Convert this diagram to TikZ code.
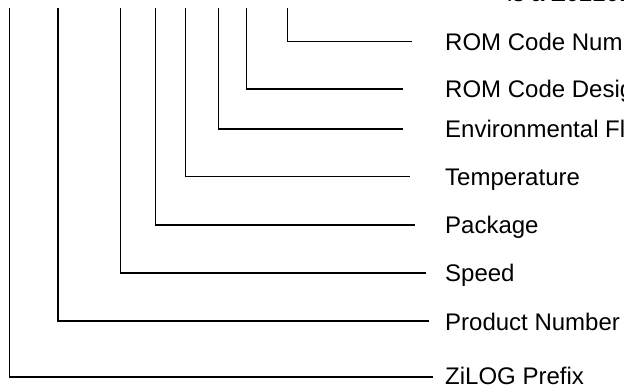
\documentclass[tikz,border=0pt]{standalone}
\usepackage{fontspec}
\setmainfont{Liberation Sans}
\begin{document}
\begin{tikzpicture}[x=1pt,y=-1pt,
  lbl/.style={anchor=base west, inner sep=0pt, font=\fontsize{24}{28}\selectfont},
  conn/.style={line width=1.4pt, line join=miter}]
\useasboundingbox (0,0) rectangle (624,385);
\clip (0,0) rectangle (624,385);
% partial text at top
\node[lbl] (top) at (507,2) {is a Z02201};
% labels
\node[lbl] (l1) at (445,50.2) {ROM Code Number};
\node[lbl] (l2) at (445,97.5) {ROM Code Designator};
\node[lbl] (l3) at (445,137.5) {Environmental Flow};
\node[lbl] (l4) at (445,185.2) {Temperature};
\node[lbl] (l5) at (445,233.5) {Package};
\node[lbl] (l6) at (445,281.5) {Speed};
\node[lbl] (l7) at (445,330) {Product Number};
\node[lbl] (l8) at (445,384.5) {ZiLOG Prefix};
% tops
\coordinate (t1) at (287.7,8);
\coordinate (t2) at (246.7,8);
\coordinate (t3) at (218.7,8);
\coordinate (t4) at (185.7,8);
\coordinate (t5) at (155.7,8);
\coordinate (t6) at (120.7,8);
\coordinate (t7) at (58,8);
\coordinate (t8) at (9.7,8);
% ends
\coordinate (e1) at (412,41.7);
\coordinate (e2) at (403,89);
\coordinate (e3) at (403,129);
\coordinate (e4) at (410,176.7);
\coordinate (e5) at (415,225);
\coordinate (e6) at (426,273);
\coordinate (e7) at (429,321);
\coordinate (e8) at (433,377);
\foreach \i in {1,...,8}{\draw[conn] (t\i) |- (e\i);}
\end{tikzpicture}
\end{document}
